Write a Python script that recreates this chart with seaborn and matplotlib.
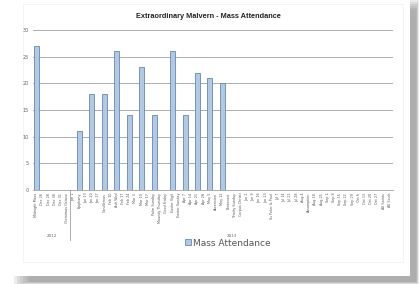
import numpy as np
import pandas as pd
import matplotlib
matplotlib.use("Agg")
import matplotlib.pyplot as plt
import matplotlib.patches as mpatches
import matplotlib.transforms as mtrans
import seaborn as sns

# Category labels (two groups: 2012 and 2013), values for masses that were counted
grp_2012 = ['Midnight Mass', 'Dec 26', 'Dec 28', 'Dec 30', 'Dec 31', 'Christmas Octave']
grp_2013 = ['Jan 1', 'Epiphany', 'Jan 13', 'Jan 20', 'Jan 27', 'Candlemas',
            'Feb 10', 'Ash Wed', 'Feb 17', 'Feb 24', 'Mar 3', 'Mar 10',
            'Mar 17', 'Palm Sunday', 'Maundy Thursday', 'Good Friday', 'Easter Vigil',
            'Easter Sunday', 'Apr 7', 'Apr 14', 'Apr 21', 'Apr 28', 'May 5',
            'Ascension', 'May 12', 'Pentecost', 'Trinity Sunday', 'Corpus Christi',
            'Jun 2', 'Jun 9', 'Jun 16', 'Jun 23', 'Ss Peter & Paul', 'Jul 7',
            'Jul 14', 'Jul 21', 'Jul 28', 'Aug 4', 'Assumption', 'Aug 18',
            'Aug 25', 'Sep 1', 'Sep 8', 'Sep 15', 'Sep 22', 'Sep 29',
            'Oct 6', 'Oct 13', 'Oct 20', 'Oct 27', 'All Saints', 'All Souls']
labels = grp_2012 + grp_2013
groups = ['2012', '2013']

# attendance by category index (others not recorded)
counted = {0: 27, 7: 11, 9: 18, 11: 18, 13: 26, 15: 14, 17: 23,
           19: 14, 22: 26, 24: 14, 26: 22, 28: 21, 30: 20}
attendance = [counted.get(i, np.nan) for i in range(len(labels))]

df = pd.DataFrame({'Mass': labels, 'Mass Attendance': attendance})

W, H = 419, 284
fig = plt.figure(figsize=(W / 100, H / 100), dpi=100)
fig.patch.set_facecolor('white')


def px_rect(x0, y0, x1, y1, **kw):
    # rectangle given in pixel coords (origin top-left)
    return mpatches.Rectangle((x0 / W, 1 - y1 / H), (x1 - x0) / W, (y1 - y0) / H,
                              transform=fig.transFigure, edgecolor='none', **kw)


# card shadow (right and bottom), fading in at the left / top ends
for k in range(6):
    fig.patches.append(px_rect(14 + 3 * k, 0 + 2 * k, 419 - k * 0.6, 284 - k * 0.4,
                               facecolor='#808080', alpha=0.15, zorder=0))
fig.patches.append(px_rect(0, 0, 410, 276, facecolor='white', zorder=1))
# faint chart-area border
fig.patches.append(mpatches.Rectangle((23 / W, 1 - 262 / H), 380 / W, 258 / H,
                                      transform=fig.transFigure, facecolor='none',
                                      edgecolor='#f2f2f2', linewidth=0.6, zorder=1.5))

ax = fig.add_axes([33 / W, 1 - 190 / H, 360 / W, 160 / H])
ax.set_zorder(3)
ax.set_facecolor('none')
sns.barplot(data=df, x='Mass', y='Mass Attendance', order=labels, ax=ax,
            color='#abc9ea', edgecolor='#6488b3', linewidth=0.6, width=0.8,
            label='Mass Attendance')

ax.set_ylim(0, 30)
ax.set_xlim(-0.5, len(labels) - 0.5)
ax.set_yticks(range(0, 31, 5))
ax.yaxis.grid(True, color='#a0a0a0', linewidth=0.6)
ax.set_axisbelow(True)
for s in ['top', 'right', 'left']:
    ax.spines[s].set_visible(False)
ax.spines['bottom'].set_color('#a0a0a0')
ax.spines['bottom'].set_linewidth(0.6)
ax.tick_params(axis='y', length=0, labelsize=3.5, labelcolor='#666666', pad=3)
ax.tick_params(axis='x', length=0, labelsize=2.4, labelcolor='#555555',
               pad=2, rotation=90)
ax.set_xlabel('')
ax.set_ylabel('')

# group labels and separator
trans = mtrans.blended_transform_factory(ax.transData, ax.transAxes)
ax.plot([len(grp_2012) - 0.5] * 2, [0, -0.31], transform=trans,
        color='#a0a0a0', linewidth=0.6, clip_on=False)
ax.text((len(grp_2012) - 1) / 2, -0.29, groups[0], transform=trans,
        ha='center', va='center', fontsize=3, color='#666666')
ax.text(len(grp_2012) + (len(grp_2013) - 1) / 2, -0.29, groups[1], transform=trans,
        ha='center', va='center', fontsize=3, color='#666666')

t = fig.text(208 / W, 1 - 17 / H, 'Extraordinary Malvern - Mass Attendance',
             ha='center', va='center', fontsize=5.3, fontweight='bold',
             family='Liberation Sans', color='#222222')
t.set_zorder(4)

leg = ax.legend(loc='center', bbox_to_anchor=(228 / W, 1 - 243 / H),
                bbox_transform=fig.transFigure, frameon=False,
                fontsize=6.5, handlelength=0.6, handleheight=0.6,
                handletextpad=0.3, borderpad=0)
for t in leg.get_texts():
    t.set_color('#555555')

fig.savefig('out.png', dpi=100, facecolor='white')
